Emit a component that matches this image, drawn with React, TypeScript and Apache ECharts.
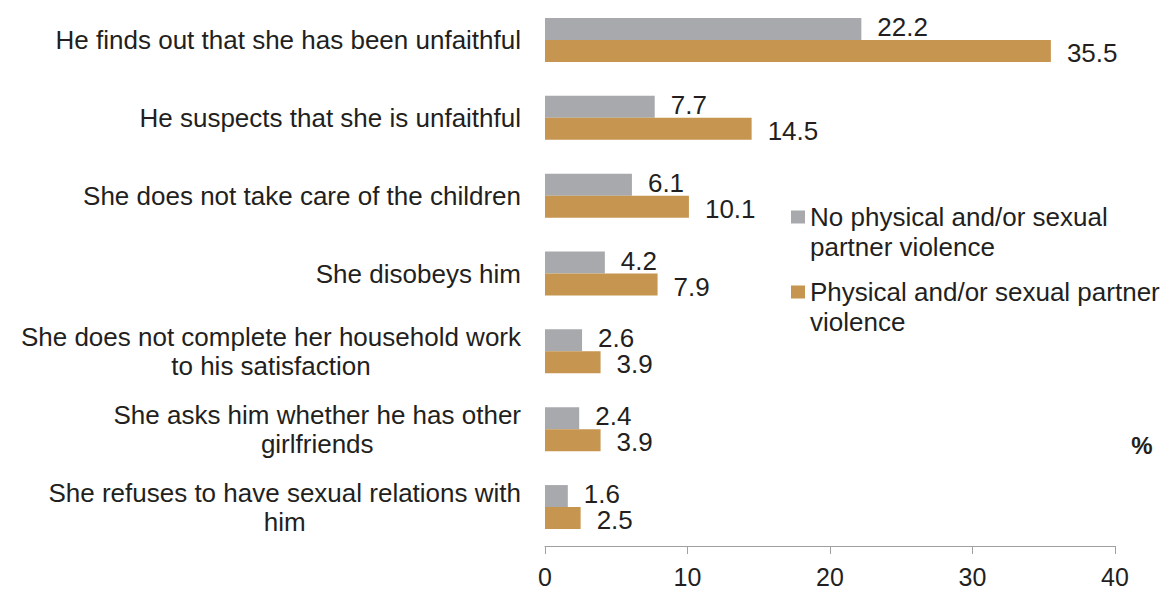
import React, { useEffect, useRef } from "react";
import * as echarts from "echarts";

const categories = [
  "He finds out that she has been unfaithful",
  "He suspects that she is unfaithful",
  "She does not take care of the children",
  "She disobeys him",
  "She does not complete her household work\nto his satisfaction",
  "She asks him whether he has other\ngirlfriends",
  "She refuses to have sexual relations with\nhim",
];

const seriesNames = [
  "No physical and/or sexual partner violence",
  "Physical and/or sexual partner violence",
];
const legendLabels = [
  "No physical and/or sexual\npartner violence",
  "Physical and/or sexual partner\nviolence",
];

const noViolence = [22.2, 7.7, 6.1, 4.2, 2.6, 2.4, 1.6];
const violence = [35.5, 14.5, 10.1, 7.9, 3.9, 3.9, 2.5];

const xTicks = [0, 10, 20, 30, 40];

const FONT = "'Liberation Sans', Arial, sans-serif";
const TEXT = "#231f20";
const GRAY = "#a7a9ac";
const ORANGE = "#c6954f";

export default function App() {
  const ref = useRef<HTMLDivElement>(null);
  useEffect(() => {
    if (!ref.current) return;
    const chart = echarts.init(ref.current, null, { renderer: "svg" });
    const labelStyle = (dy: number) => ({
      show: true,
      position: "right",
      distance: 16,
      offset: [0, dy],
      fontSize: 26,
      lineHeight: 22,
      fontFamily: FONT,
      color: TEXT,
      formatter: (p: any) => p.value.toFixed(1),
    });
    chart.setOption({
      animation: false,
      backgroundColor: "#ffffff",
      textStyle: { fontFamily: FONT },
      grid: { left: 545, right: 55, top: 1, bottom: 44, containLabel: false },
      legend: {
        orient: "vertical",
        left: 791,
        top: 172,
        padding: 0,
        itemGap: -15,
        itemWidth: 14,
        itemHeight: 13,
        icon: "rect",
        selectedMode: false,
        data: seriesNames,
        // a blank first line keeps the icon level with the first text line
        formatter: (name: string) => " \n" + legendLabels[seriesNames.indexOf(name)],
        textStyle: {
          fontSize: 26,
          lineHeight: 30,
          fontFamily: FONT,
          color: TEXT,
        },
      },
      xAxis: {
        type: "value",
        min: xTicks[0],
        max: xTicks[xTicks.length - 1],
        interval: 10,
        splitLine: { show: false },
        axisLine: { show: true, lineStyle: { color: "#a0a0a0", width: 1 } },
        axisTick: { show: true, length: 8, lineStyle: { color: "#a0a0a0" } },
        axisLabel: { fontSize: 25, color: TEXT, fontFamily: FONT, margin: 18 },
      },
      yAxis: {
        type: "category",
        inverse: true,
        data: categories,
        axisLine: { show: false },
        axisTick: { show: false },
        axisLabel: {
          margin: 24,
          formatter: (v: string) =>
            v
              .split("\n")
              .map((l) => `{c|${l}}`)
              .join("\n"),
          rich: {
            c: {
              align: "center",
              fontSize: 26,
              lineHeight: 29,
              fontFamily: FONT,
              color: TEXT,
            },
          },
        },
      },
      series: [
        {
          name: seriesNames[0],
          type: "bar",
          data: noViolence,
          barWidth: 22,
          barGap: "0%",
          itemStyle: { color: GRAY },
          label: labelStyle(-2),
        },
        {
          name: seriesNames[1],
          type: "bar",
          data: violence,
          barWidth: 22,
          barGap: "0%",
          itemStyle: { color: ORANGE },
          label: labelStyle(2),
        },
      ],
      graphic: [
        {
          type: "text",
          x: 1142,
          y: 445,
          style: {
            text: "%",
            fontSize: 24,
            fontWeight: "bold",
            fontFamily: FONT,
            fill: TEXT,
            align: "center",
            verticalAlign: "middle",
          },
        },
      ],
    });
    return () => chart.dispose();
  }, []);
  return (
    <div
      ref={ref}
      style={{ position: "fixed", left: 0, top: 0, width: 1170, height: 590 }}
    />
  );
}
